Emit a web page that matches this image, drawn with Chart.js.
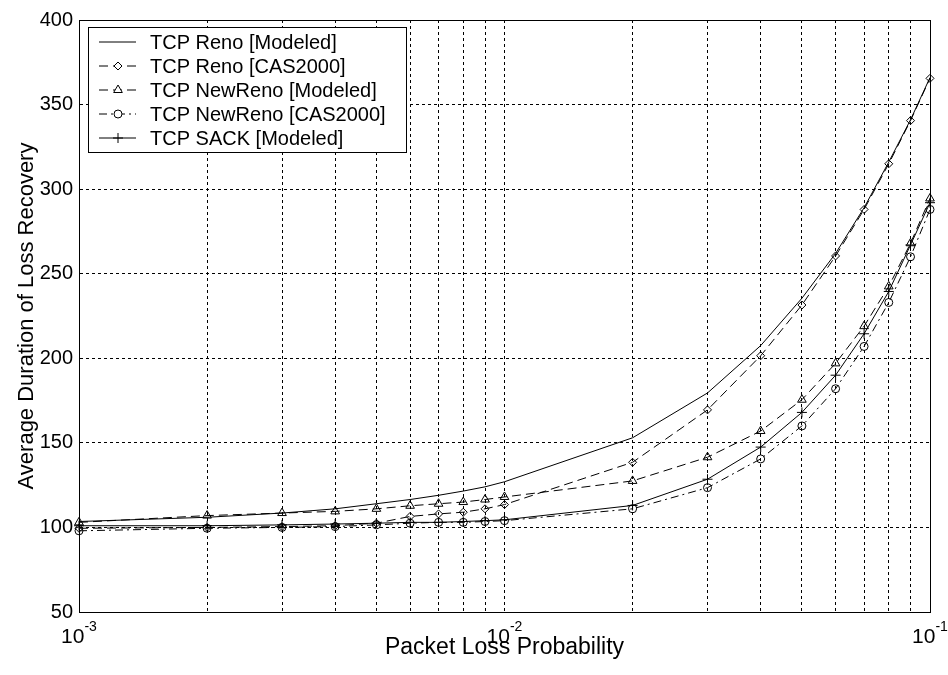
<!DOCTYPE html>
<html>
<head>
<meta charset="utf-8">
<script src="https://cdn.jsdelivr.net/npm/chart.js@4/dist/chart.umd.min.js"></script>
<style>
  body { margin: 0; background: #fff; }
  canvas { display: block; }
</style>
</head>
<body>
<canvas id="lossChart" width="948" height="675"></canvas>
<script>
// packet loss probabilities (x)
const lossProb = [0.001, 0.002, 0.003, 0.004, 0.005, 0.006, 0.007, 0.008, 0.009, 0.01,
                  0.02, 0.03, 0.04, 0.05, 0.06, 0.07, 0.08, 0.09, 0.1];

// average duration of loss recovery per series
const renoModeled    = [103.5, 106, 108.5, 111, 114, 116.5, 119, 121.5, 124, 127,
                        153, 179.5, 207.5, 235.5, 262, 289, 316, 341, 366];
const renoCas        = [99.5, 100, 100.5, 101, 102.5, 106.5, 108, 109, 111, 113.5,
                        138.5, 169.5, 201.5, 231.5, 260.5, 288, 315, 340.5, 365.5];
const newRenoModeled = [103, 107, 108.5, 109.5, 111, 112.8, 114, 115, 116.5, 118,
                        127.5, 141.5, 157, 175.5, 197, 219, 242.5, 268, 294.5];
const newRenoCas     = [98, 99.5, 100, 100.5, 101.5, 102.5, 103, 103, 103.5, 104,
                        111, 123.5, 140.5, 160, 182, 207, 233, 260, 288];
const sackModeled    = [101, 101, 101.5, 102, 102.5, 103, 103, 103.5, 104, 104.5,
                        113, 128.5, 147.5, 168, 190, 214.5, 239.5, 267, 292];

const seriesNames = ['TCP Reno [Modeled]', 'TCP Reno [CAS2000]', 'TCP NewReno [Modeled]',
                     'TCP NewReno [CAS2000]', 'TCP SACK [Modeled]'];

// axis ticks
const xGridTicks = [0.001, 0.002, 0.003, 0.004, 0.005, 0.006, 0.007, 0.008, 0.009,
                    0.01, 0.02, 0.03, 0.04, 0.05, 0.06, 0.07, 0.08, 0.09, 0.1];
const xDecades = [0.001, 0.01, 0.1];
const xExponents = ['-3', '-2', '-1'];
const yMin = 50, yMax = 400, yStep = 50;

Chart.defaults.font.family = '"Liberation Sans", Arial, sans-serif';
Chart.defaults.color = '#000';

function pts(ys) {
    return lossProb.map(function(p, i) { return {x: p, y: ys[i]}; });
}

function mkSet(label, ys, style, dash, radius) {
    return {
        label: label,
        data: pts(ys),
        borderColor: '#000',
        borderWidth: 1,
        borderDash: dash,
        pointStyle: style || 'circle',
        pointRadius: radius,
        pointBorderColor: '#000',
        pointBackgroundColor: 'rgba(0,0,0,0)',
        pointBorderWidth: 1,
        tension: 0,
        fill: false,
        clip: false
    };
}

// legend box drawn inside the plot, top-left
const innerLegend = {
    id: 'innerLegend',
    afterDatasetsDraw: function(chart) {
        const ctx = chart.ctx;
        const a = chart.chartArea;
        const bx = a.left + 9, by = a.top + 7, bw = 318, bh = 125;
        ctx.save();
        ctx.fillStyle = '#fff';
        ctx.fillRect(bx, by, bw, bh);
        ctx.strokeStyle = '#000';
        ctx.lineWidth = 1;
        ctx.strokeRect(bx + 0.5, by + 0.5, bw, bh);
        ctx.font = '20px "Liberation Sans", Arial, sans-serif';
        ctx.textBaseline = 'middle';
        chart.data.datasets.forEach(function(ds, i) {
            const ry = by + 15 + i * 24;
            ctx.save();
            ctx.setLineDash(ds.borderDash || []);
            ctx.beginPath();
            ctx.moveTo(bx + 11, ry);
            ctx.lineTo(bx + 48, ry);
            ctx.stroke();
            ctx.restore();
            if (ds.pointRadius > 0) {
                ctx.fillStyle = '#fff';
                Chart.helpers.drawPoint(ctx, {
                    pointStyle: ds.pointStyle, radius: ds.pointRadius,
                    borderWidth: 1, rotation: 0
                }, bx + 30, ry);
            }
            ctx.fillStyle = '#000';
            ctx.fillText(ds.label, bx + 62, ry + 1);
        });
        ctx.restore();
    },
    afterDraw: function(chart) {
        const ctx = chart.ctx;
        const a = chart.chartArea;
        const xs = chart.scales.x;
        ctx.save();
        // box around the axes
        ctx.strokeStyle = '#000';
        ctx.lineWidth = 1;
        ctx.strokeRect(a.left + 0.5, a.top + 0.5, a.right - a.left, a.bottom - a.top);
        // 10^n tick labels
        ctx.fillStyle = '#000';
        ctx.textBaseline = 'alphabetic';
        xDecades.forEach(function(v, i) {
            const px = xs.getPixelForValue(v);
            ctx.font = '21px "Liberation Sans", Arial, sans-serif';
            const w1 = ctx.measureText('10').width;
            ctx.font = '14px "Liberation Sans", Arial, sans-serif';
            const w2 = ctx.measureText(xExponents[i]).width;
            const x0 = px - (w1 + w2) / 2;
            ctx.font = '21px "Liberation Sans", Arial, sans-serif';
            ctx.fillText('10', x0, a.bottom + 31);
            ctx.font = '14px "Liberation Sans", Arial, sans-serif';
            ctx.fillText(xExponents[i], x0 + w1, a.bottom + 19);
        });
        ctx.restore();
    }
};

new Chart(document.getElementById('lossChart'), {
    type: 'line',
    data: {
        datasets: [
            mkSet(seriesNames[0], renoModeled, 'circle', [], 0),
            mkSet(seriesNames[1], renoCas, 'rectRot', [9, 5], 4),
            mkSet(seriesNames[2], newRenoModeled, 'triangle', [9, 5], 5),
            mkSet(seriesNames[3], newRenoCas, 'circle', [8, 4, 2, 4], 4),
            mkSet(seriesNames[4], sackModeled, 'cross', [], 5)
        ]
    },
    options: {
        responsive: false,
        animation: false,
        layout: { padding: { left: 0, right: 18, top: 20, bottom: 0 } },
        plugins: {
            legend: { display: false },
            tooltip: { enabled: false }
        },
        scales: {
            x: {
                type: 'logarithmic',
                min: 0.001,
                max: 0.1,
                afterBuildTicks: function(scale) {
                    scale.ticks = xGridTicks.map(function(v) { return {value: v}; });
                },
                afterFit: function(scale) { scale.height = 63; },
                ticks: { display: false },
                grid: { color: '#000', lineWidth: 1, drawTicks: false },
                border: { color: '#000', width: 1, dash: [3, 3] },
                title: {
                    display: true,
                    text: 'Packet Loss Probability',
                    font: { size: 23 },
                    padding: { top: 0, bottom: 14 }
                }
            },
            y: {
                min: yMin,
                max: yMax,
                afterFit: function(scale) { scale.width = 79; },
                ticks: { stepSize: yStep, padding: 6, font: { size: 20 } },
                grid: { color: '#000', lineWidth: 1, drawTicks: false },
                border: { color: '#000', width: 1, dash: [3, 3] },
                title: {
                    display: true,
                    text: 'Average Duration of Loss Recovery',
                    font: { size: 22 },
                    padding: { top: 14, bottom: 0 }
                }
            }
        }
    },
    plugins: [innerLegend]
});
</script>
</body>
</html>
